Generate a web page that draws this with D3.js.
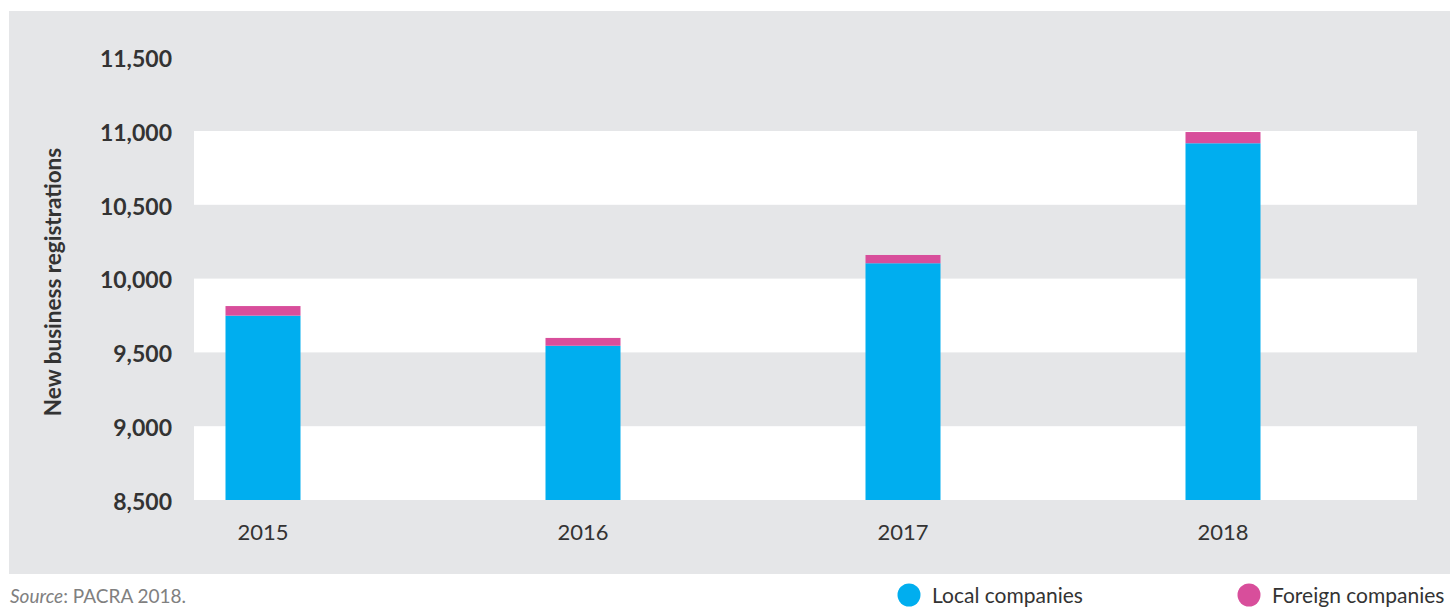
<!DOCTYPE html>
<html>
<head>
<meta charset="utf-8">
<script src="https://cdn.jsdelivr.net/npm/d3@7"></script>
<style>
  html, body { margin: 0; padding: 0; background: #fff; overflow: hidden; }
  text { font-family: Lato, "Open Sans", sans-serif; }
</style>
</head>
<body>
<div id="chart"></div>
<script>
// data
const years = ["2015", "2016", "2017", "2018"];
const localCompanies = [9749, 9545, 10104, 10917];
const foreignCompanies = [65, 53, 56, 76];
const yTicks = [8500, 9000, 9500, 10000, 10500, 11000, 11500];
const seriesNames = ["Local companies", "Foreign companies"];
const seriesColors = ["#00aeef", "#d84e9b"];

const width = 1450, height = 607;

const svg = d3.select("#chart").append("svg")
  .attr("width", width)
  .attr("height", height);

// grey panel
svg.append("rect")
  .attr("x", 9).attr("y", 11)
  .attr("width", width - 9).attr("height", 563)
  .attr("fill", "#e5e6e8");

const plotLeft = 194, plotRight = 1417;

const y = d3.scaleLinear().domain([8500, 11000]).range([500, 131]);
const x = d3.scaleBand().domain(years).range([103, 1383])
  .paddingInner(1 - 75 / 320).paddingOuter((1 - 75 / 320) / 2);

// white bands between alternating gridlines
const bands = [[8500, 9000], [9500, 10000], [10500, 11000]];
svg.append("g").selectAll("rect")
  .data(bands)
  .join("rect")
  .attr("x", plotLeft)
  .attr("width", plotRight - plotLeft)
  .attr("y", d => y(d[1]))
  .attr("height", d => y(d[0]) - y(d[1]))
  .attr("fill", "#fff");

// stacked bars
const rows = years.map((yr, i) => ({ year: yr, local: localCompanies[i], foreign: foreignCompanies[i] }));
const stack = d3.stack().keys(["local", "foreign"])(rows);

svg.append("g").selectAll("g")
  .data(stack)
  .join("g")
  .attr("fill", (d, i) => seriesColors[i])
  .selectAll("rect")
  .data(d => d)
  .join("rect")
  .attr("x", d => x(d.data.year))
  .attr("width", x.bandwidth())
  .attr("y", d => y(d[1]))
  .attr("height", d => y(Math.max(d[0], 8500)) - y(d[1]));

// y axis
const yAxis = svg.append("g")
  .attr("transform", "translate(172,2)")
  .call(d3.axisLeft(y).tickValues(yTicks).tickSize(0).tickPadding(0).tickFormat(d3.format(",")));
yAxis.select(".domain").remove();
yAxis.selectAll("text")
  .attr("font-size", 23)
  .attr("font-weight", "bold")
  .attr("fill", "#333")
  .attr("font-family", "Lato, sans-serif");

// x axis
const xAxis = svg.append("g")
  .attr("transform", "translate(0,524)")
  .call(d3.axisBottom(x).tickSize(0).tickPadding(0));
xAxis.select(".domain").remove();
xAxis.selectAll("text")
  .attr("font-size", 22)
  .attr("fill", "#333")
  .attr("font-family", "Lato, sans-serif");

// y axis title
svg.append("text")
  .attr("transform", "translate(61,282) rotate(-90)")
  .attr("text-anchor", "middle")
  .attr("font-size", 22.5)
  .attr("font-weight", "bold")
  .attr("fill", "#333")
  .text("New business registrations");

// source note
const src = svg.append("text")
  .attr("x", 10).attr("y", 603)
  .attr("font-size", 19)
  .attr("fill", "#808080");
src.append("tspan").attr("font-style", "italic").text("Source");
src.append("tspan").text(": PACRA 2018.");

// legend
const legendX = [909, 1249];
const legend = svg.append("g").selectAll("g")
  .data(seriesNames)
  .join("g")
  .attr("transform", (d, i) => `translate(${legendX[i]},595)`);
legend.append("circle")
  .attr("r", 11.5)
  .attr("fill", (d, i) => seriesColors[i]);
legend.append("text")
  .attr("x", 23)
  .attr("y", 8)
  .attr("font-size", 21)
  .attr("fill", "#333")
  .text(d => d);
</script>
</body>
</html>
